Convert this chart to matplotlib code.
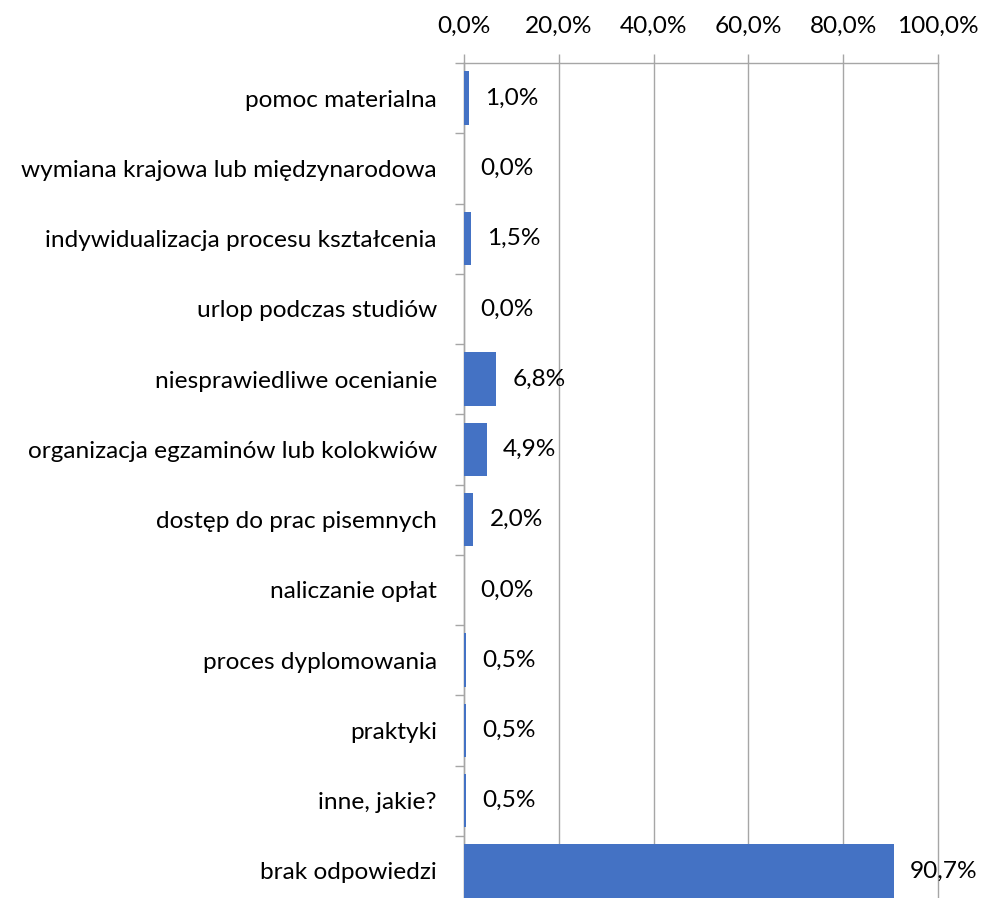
import matplotlib.pyplot as plt
import numpy as np

categories = ["pomoc materialna", "wymiana krajowa lub międzynarodowa",
              "indywidualizacja procesu kształcenia", "urlop podczas studiów",
              "niesprawiedliwe ocenianie", "organizacja egzaminów lub kolokwiów",
              "dostęp do prac pisemnych", "naliczanie opłat", "proces dyplomowania",
              "praktyki", "inne, jakie?", "brak odpowiedzi"]
values = [1.0, 0.0, 1.5, 0.0, 6.8, 4.9, 2.0, 0.0, 0.5, 0.5, 0.5, 90.7]
x_ticks = [0, 20, 40, 60, 80, 100]

plt.rcParams['font.family'] = ['Lato', 'DejaVu Sans']
grid_col = '#A6A6A6'
fs = 17.6

fig = plt.figure(figsize=(9.82, 8.98), dpi=100)
ax = fig.add_axes([464 / 982, 1 - 906 / 898, 474 / 982, 843 / 898])

pos = np.arange(len(categories))
ax.barh(pos, values, height=0.76, color='#4472C4', zorder=3)

for p, v in zip(pos, values):
    ax.annotate(f"{v:.1f}%".replace('.', ','), (v, p), xytext=(11.5, 0),
                textcoords='offset points', ha='left', va='center', fontsize=fs, zorder=4)

ax.set_xlim(0, 100)
ax.set_ylim(len(categories) - 0.5, -0.5)
ax.xaxis.tick_top()
ax.set_xticks(x_ticks)
ax.set_xticklabels([f"{t:.1f}%".replace('.', ',') for t in x_ticks], fontsize=fs)
ax.tick_params(axis='x', length=6.5, width=1, color=grid_col, pad=12)
ax.set_yticks(pos)
ax.set_yticklabels(categories, fontsize=fs)
ax.set_yticks(np.arange(len(categories)) - 0.5, minor=True)
ax.tick_params(axis='y', which='major', length=0, pad=19.5)
ax.tick_params(axis='y', which='minor', length=6.5, width=1, color=grid_col)
ax.grid(axis='x', color=grid_col, linewidth=1, zorder=0)
for gl in ax.get_xgridlines():
    gl.set_clip_on(False)

for s in ['right', 'bottom']:
    ax.spines[s].set_visible(False)
for s in ['left', 'top']:
    ax.spines[s].set_color(grid_col)
    ax.spines[s].set_linewidth(1)

fig.savefig('out.png', dpi=100)
